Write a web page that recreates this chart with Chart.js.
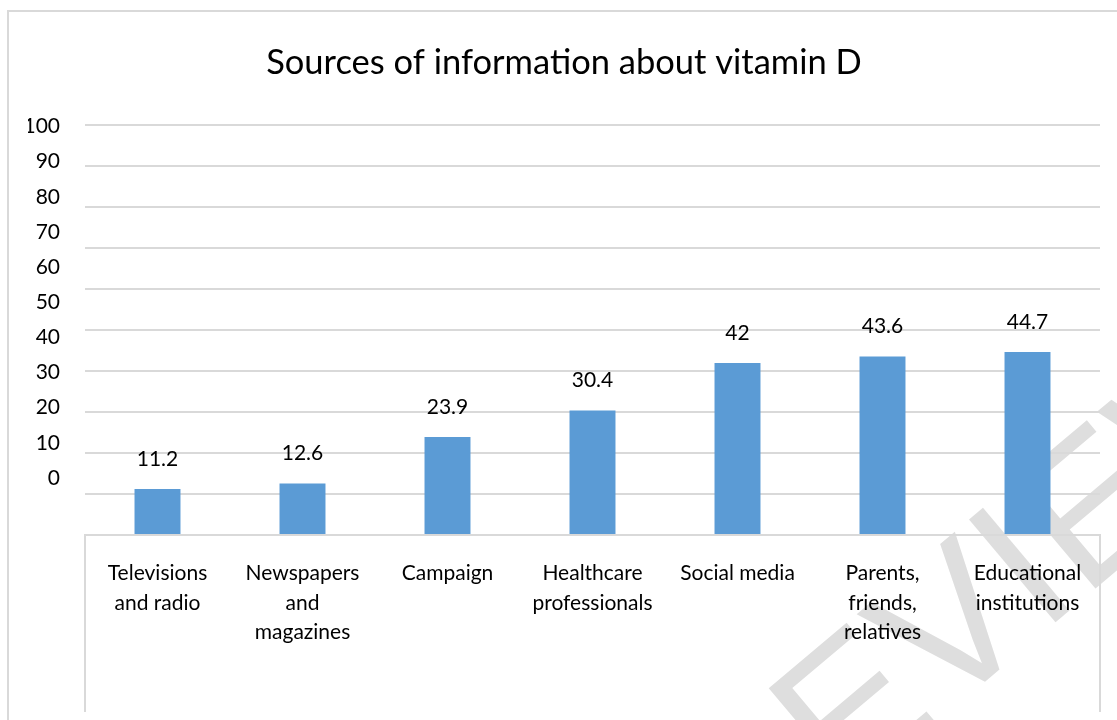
<!DOCTYPE html>
<html>
<head>
<meta charset="utf-8">
<script src="https://cdn.jsdelivr.net/npm/chart.js@4.4.1/dist/chart.umd.min.js"></script>
<style>
  html, body { margin: 0; padding: 0; background: #fff; }
  #wrap { width: 1117px; height: 720px; }
</style>
</head>
<body>
<div id="wrap"><canvas id="chart"></canvas></div>
<script>
const sources = [
  ['Televisions', 'and radio'],
  ['Newspapers', 'and', 'magazines'],
  'Campaign',
  ['Healthcare', 'professionals'],
  'Social media',
  ['Parents,', 'friends,', 'relatives'],
  ['Educational', 'institutions']
];
const percentages = [11.2, 12.6, 23.9, 30.4, 42, 43.6, 44.7];
const yTickLabels = [0, 10, 20, 30, 40, 50, 60, 70, 80, 90, 100];

const FONT = 'Lato, "Open Sans", sans-serif';
const GRID = '#d9d9d9';

// frame around the chart, box under the category axis, watermark
const frame = {
  id: 'frame',
  beforeDraw(chart) {
    const { ctx, width, height } = chart;
    ctx.save();
    ctx.fillStyle = '#fff';
    ctx.fillRect(0, 0, width, height);
    ctx.translate(945, 645);
    ctx.rotate(-0.7);
    ctx.fillStyle = '#dedede';
    ctx.font = '195px "Liberation Sans"';
    ctx.textAlign = 'center';
    ctx.textBaseline = 'middle';
    ctx.fillText('PREVIEW', 0, 0);
    ctx.restore();

    ctx.save();
    ctx.strokeStyle = GRID;
    ctx.lineWidth = 2;
    ctx.strokeRect(8, 11, width + 20, height + 20);
    ctx.restore();
  },
  afterDraw(chart) {
    const { ctx, chartArea } = chart;
    ctx.save();
    ctx.strokeStyle = GRID;
    ctx.lineWidth = 2;
    ctx.beginPath();
    ctx.moveTo(chartArea.left, chartArea.bottom);
    ctx.lineTo(chartArea.left, 712);
    ctx.moveTo(chartArea.right, chartArea.bottom);
    ctx.lineTo(chartArea.right, 712);
    ctx.stroke();
    ctx.restore();
  }
};

const valueLabels = {
  id: 'valueLabels',
  afterDatasetsDraw(chart) {
    const { ctx } = chart;
    const meta = chart.getDatasetMeta(0);
    ctx.save();
    ctx.font = '21px ' + FONT;
    ctx.fillStyle = '#000';
    ctx.textAlign = 'center';
    ctx.textBaseline = 'middle';
    meta.data.forEach((bar, i) => {
      ctx.fillText(String(percentages[i]), bar.x, bar.y - 30);
    });
    ctx.restore();
  }
};

new Chart(document.getElementById('chart'), {
  type: 'bar',
  data: {
    labels: sources,
    datasets: [{
      data: percentages,
      backgroundColor: '#5b9bd5',
      categoryPercentage: 1,
      barPercentage: 0.317
    }]
  },
  options: {
    responsive: true,
    maintainAspectRatio: false,
    animation: false,
    layout: { padding: { left: 28, right: 17, top: 42, bottom: 0 } },
    plugins: {
      legend: { display: false },
      tooltip: { enabled: false },
      title: {
        display: true,
        text: 'Sources of information about vitamin D',
        color: '#000',
        font: { family: FONT, size: 34.5, weight: 'normal', lineHeight: 1.2 },
        padding: { top: 0, bottom: 42 }
      }
    },
    scales: {
      x: {
        grid: { display: false },
        border: { display: true, color: GRID, width: 2 },
        ticks: {
          color: '#000',
          font: { family: FONT, size: 21, lineHeight: 1.4 },
          padding: 16,
          maxRotation: 0,
          autoSkip: false
        },
        afterFit(scale) { scale.height = 185; }
      },
      y: {
        min: 0,
        max: 100,
        weight: 0,
        ticks: { stepSize: 10, display: false },
        grid: { color: GRID, lineWidth: 2, drawTicks: false },
        border: { display: false }
      },
      yLabels: {
        position: 'left',
        weight: 1,
        min: -16.2,
        max: 100.3,
        afterBuildTicks(scale) {
          scale.ticks = yTickLabels.map(v => ({ value: v }));
        },
        ticks: {
          color: '#000',
          font: { family: FONT, size: 21 },
          padding: 25
        },
        grid: { display: false, drawTicks: false },
        border: { display: false },
        afterFit(scale) { scale.width = 57; }
      }
    }
  },
  plugins: [frame, valueLabels]
});
</script>
</body>
</html>
